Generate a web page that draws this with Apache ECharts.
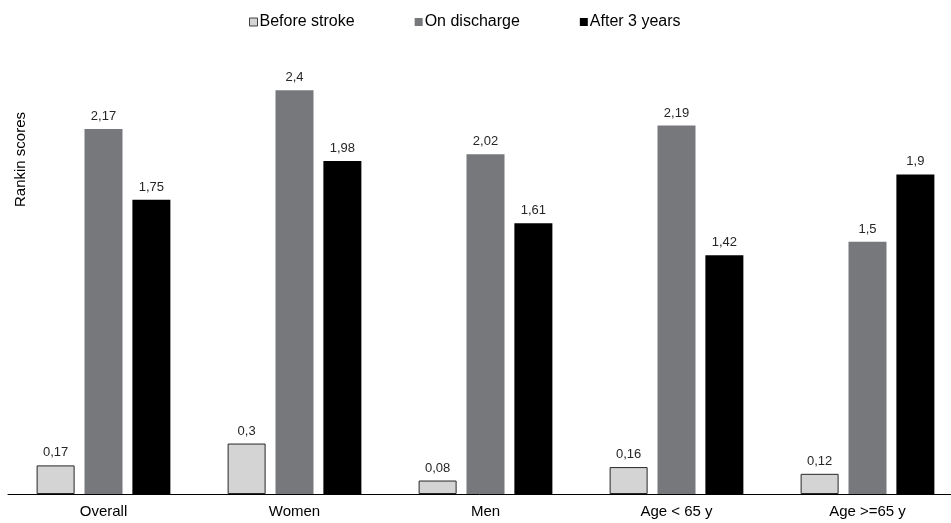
<!DOCTYPE html>
<html>
<head>
<meta charset="utf-8">
<script src="https://cdn.jsdelivr.net/npm/echarts@6/dist/echarts.min.js"></script>
<style>html,body{margin:0;padding:0;background:#fff;}#c{width:951px;height:523px;}</style>
</head>
<body>
<div id="c"></div>
<script>
const categories = ['Overall', 'Women', 'Men', 'Age < 65 y', 'Age >=65 y'];
const seriesNames = ['Before stroke', 'On discharge', 'After 3 years'];
const beforeStroke = [0.17, 0.3, 0.08, 0.16, 0.12];
const onDischarge = [2.17, 2.4, 2.02, 2.19, 1.5];
const after3Years = [1.75, 1.98, 1.61, 1.42, 1.9];
const yTitle = 'Rankin scores';

const chart = echarts.init(document.getElementById('c'));
const fmt = p => String(p.value).replace('.', ',');
const font = 'Liberation Sans, Arial, sans-serif';
const labelCfg = { show: true, position: 'top', distance: 6, formatter: fmt, fontSize: 13, color: '#262626', fontFamily: font };
chart.setOption({
  animation: false,
  backgroundColor: '#fff',
  legend: {
    top: 9, left: 244,
    itemWidth: 8, itemHeight: 8, itemGap: 60,
    textStyle: { fontSize: 16, color: '#000', fontFamily: font, padding: [0, 0, 0, -3] },
    data: [
      { name: seriesNames[0], icon: 'rect', itemStyle: { borderColor: '#404040', borderWidth: 1 } },
      { name: seriesNames[1], icon: 'rect' },
      { name: seriesNames[2], icon: 'rect' }
    ]
  },
  graphic: [{
    type: 'text', left: 13, top: 112, rotation: Math.PI / 2,
    style: { text: yTitle, fill: '#000', font: '15px ' + font }
  }],
  grid: { left: 8, width: 955, top: 23, bottom: 29, outerBoundsMode: 'none', containLabel: false },
  xAxis: {
    type: 'category', data: categories,
    axisLine: { lineStyle: { color: '#000', width: 1 } },
    axisTick: { show: false },
    axisLabel: { fontSize: 15, color: '#000', margin: 10, fontFamily: font }
  },
  yAxis: {
    type: 'value', min: 0, max: 2.8,
    axisLine: { show: false }, axisTick: { show: false },
    axisLabel: { show: false }, splitLine: { show: false }
  },
  series: [
    { name: seriesNames[0], type: 'bar', data: beforeStroke, barWidth: 38, barGap: '26%',
      itemStyle: { color: '#d4d4d4', borderColor: '#262626', borderWidth: 1 }, label: labelCfg },
    { name: seriesNames[1], type: 'bar', data: onDischarge, barWidth: 38, barGap: '26%',
      itemStyle: { color: '#76787b' }, label: labelCfg },
    { name: seriesNames[2], type: 'bar', data: after3Years, barWidth: 38, barGap: '26%',
      itemStyle: { color: '#000' }, label: labelCfg }
  ]
});
</script>
</body>
</html>
